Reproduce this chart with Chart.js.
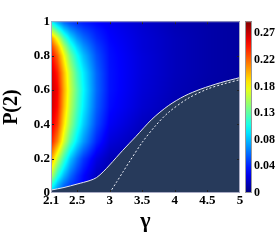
<!DOCTYPE html>
<html>
<head>
<meta charset="utf-8">
<script src="https://cdn.jsdelivr.net/npm/chart.js@4.4.1/dist/chart.umd.min.js"></script>
<style>
  html, body { margin: 0; padding: 0; background: #fff; }
  #wrap { width: 277px; height: 241px; }
</style>
</head>
<body>
<div id="wrap"><canvas id="chartMap"></canvas></div>
<script>
// axis ticks
const gammaTicks = [2.1, 2.5, 3, 3.5, 4, 4.5, 5];
const gammaTickLabels = ['2.1', '2.5', '3', '3.5', '4', '4.5', '5'];
const pTicks = [0, 0.2, 0.4, 0.6, 0.8, 1];
const pTickLabels = ['0', '0.2', '0.4', '0.6', '0.8', '1'];

// colour bar
const colorMax = 0.29;
const cbTicks = [0, 0.0449, 0.0898, 0.1347, 0.1796, 0.2245, 0.2694];
const cbTickLabels = ['0', '0.04', '0.08', '0.13', '0.18', '0.22', '0.27'];

// heat map grid (columns = gamma, one array per P row)
const gammaCols = [2.1, 2.2, 2.3, 2.4, 2.5, 2.6, 2.8, 3.0, 3.5, 4.0, 4.5, 5.0];
const pRows = [0, 0.05, 0.1, 0.2, 0.3, 0.4, 0.5, 0.6, 0.7, 0.8, 0.85, 0.9, 0.95, 1];
const rowP000 = [0.090, 0.070, 0.055, 0.046, 0.040, 0.035, 0.022, 0.015, 0.010, 0.008, 0.007, 0.006];
const rowP005 = [0.125, 0.090, 0.068, 0.054, 0.045, 0.036, 0.020, 0.013, 0.010, 0.008, 0.007, 0.006];
const rowP010 = [0.165, 0.118, 0.088, 0.066, 0.050, 0.038, 0.018, 0.012, 0.009, 0.008, 0.007, 0.006];
const rowP020 = [0.212, 0.165, 0.125, 0.092, 0.070, 0.052, 0.028, 0.016, 0.010, 0.008, 0.007, 0.006];
const rowP030 = [0.248, 0.215, 0.168, 0.130, 0.102, 0.080, 0.046, 0.026, 0.013, 0.009, 0.007, 0.006];
const rowP040 = [0.263, 0.238, 0.188, 0.150, 0.120, 0.095, 0.057, 0.034, 0.018, 0.011, 0.008, 0.007];
const rowP050 = [0.270, 0.250, 0.200, 0.160, 0.130, 0.104, 0.063, 0.039, 0.023, 0.014, 0.010, 0.008];
const rowP060 = [0.272, 0.254, 0.205, 0.165, 0.135, 0.108, 0.066, 0.041, 0.025, 0.016, 0.011, 0.008];
const rowP070 = [0.268, 0.245, 0.200, 0.160, 0.128, 0.104, 0.065, 0.041, 0.026, 0.017, 0.012, 0.009];
const rowP080 = [0.255, 0.225, 0.180, 0.140, 0.112, 0.090, 0.059, 0.040, 0.026, 0.017, 0.012, 0.009];
const rowP085 = [0.240, 0.205, 0.160, 0.122, 0.097, 0.079, 0.054, 0.039, 0.025, 0.017, 0.012, 0.009];
const rowP090 = [0.215, 0.175, 0.130, 0.100, 0.080, 0.067, 0.048, 0.037, 0.025, 0.017, 0.012, 0.009];
const rowP095 = [0.160, 0.125, 0.095, 0.076, 0.064, 0.055, 0.043, 0.035, 0.024, 0.016, 0.012, 0.009];
const rowP100 = [0.105, 0.080, 0.062, 0.052, 0.046, 0.042, 0.036, 0.031, 0.022, 0.015, 0.011, 0.008];
const heatRows = [rowP000, rowP005, rowP010, rowP020, rowP030, rowP040, rowP050,
                  rowP060, rowP070, rowP080, rowP085, rowP090, rowP095, rowP100];

// boundary of the shaded region (solid) and the dashed curve
const solidGamma = [2.1, 2.3, 2.5, 2.7, 2.8, 2.9, 3.0, 3.2, 3.4, 3.65, 3.9, 4.15, 4.4, 4.7, 5.0];
const solidP = [0.017, 0.032, 0.052, 0.073, 0.09, 0.123, 0.163, 0.248, 0.328, 0.43, 0.508, 0.565, 0.605, 0.642, 0.672];
const dashGamma = [3.0, 3.1, 3.2, 3.3, 3.5, 3.7, 3.9, 4.2, 4.5, 4.75, 5.0];
const dashP = [0, 0.06, 0.12, 0.18, 0.295, 0.39, 0.468, 0.55, 0.605, 0.635, 0.66];

const FONT = '"Liberation Serif", "DejaVu Serif", serif';
const SHADE = '#273a5b';

// jet colour map, t in [0,1]
function jet(t) {
  t = Math.max(0, Math.min(1, t));
  const c = v => Math.round(255 * Math.max(0, Math.min(1, v)));
  return [c(1.5 - Math.abs(4 * t - 3)), c(1.5 - Math.abs(4 * t - 2)), c(1.5 - Math.abs(4 * t - 1))];
}

function findCell(arr, v) {
  let i = 0;
  while (i < arr.length - 2 && v > arr[i + 1]) i++;
  const f = Math.max(0, Math.min(1, (v - arr[i]) / (arr[i + 1] - arr[i])));
  return [i, f];
}

function heatValue(g, p) {
  const [i, fx] = findCell(gammaCols, g);
  const [j, fy] = findCell(pRows, p);
  const a = heatRows[j][i], b = heatRows[j][i + 1];
  const c = heatRows[j + 1][i], d = heatRows[j + 1][i + 1];
  return (a * (1 - fx) + b * fx) * (1 - fy) + (c * (1 - fx) + d * fx) * fy;
}

// heat map under the datasets, frame / ticks / colour bar on top
const heatPlugin = {
  id: 'heat',
  beforeDatasetsDraw(chart) {
    const { ctx, chartArea: a, scales: { x, y } } = chart;
    const w = Math.round(a.right - a.left), h = Math.round(a.bottom - a.top);
    const off = document.createElement('canvas');
    off.width = w; off.height = h;
    const octx = off.getContext('2d');
    const img = octx.createImageData(w, h);
    for (let py = 0; py < h; py++) {
      const p = y.getValueForPixel(a.top + py + 0.5);
      for (let px = 0; px < w; px++) {
        const g = x.getValueForPixel(a.left + px + 0.5);
        const col = jet(heatValue(g, p) / colorMax);
        const k = (py * w + px) * 4;
        img.data[k] = col[0]; img.data[k + 1] = col[1]; img.data[k + 2] = col[2]; img.data[k + 3] = 255;
      }
    }
    octx.putImageData(img, 0, 0);
    ctx.drawImage(off, a.left, a.top);
  },
  afterDraw(chart) {
    const { ctx, chartArea: a, scales: { x, y, cb } } = chart;
    ctx.save();
    // inward tick marks
    ctx.strokeStyle = '#222';
    ctx.lineWidth = 1;
    ctx.beginPath();
    gammaTicks.slice(1, -1).forEach(v => {
      const px = Math.round(x.getPixelForValue(v)) + 0.5;
      ctx.moveTo(px, a.top); ctx.lineTo(px, a.top + 3);
      ctx.moveTo(px, a.bottom); ctx.lineTo(px, a.bottom - 3);
    });
    pTicks.slice(1, -1).forEach(v => {
      const py = Math.round(y.getPixelForValue(v)) + 0.5;
      ctx.moveTo(a.left, py); ctx.lineTo(a.left + 3, py);
      ctx.moveTo(a.right, py); ctx.lineTo(a.right - 3, py);
    });
    ctx.stroke();
    // frame
    ctx.strokeStyle = '#a9abc4';
    ctx.strokeRect(a.left + 0.5, a.top + 0.5, a.right - a.left - 1, a.bottom - a.top - 1);
    // colour bar
    const bx = a.right + 5, bw = 7;
    const top = cb.getPixelForValue(colorMax), bot = cb.getPixelForValue(0);
    const grad = ctx.createLinearGradient(0, bot, 0, top);
    for (let s = 0; s <= 20; s++) {
      const c = jet(s / 20);
      grad.addColorStop(s / 20, `rgb(${c[0]},${c[1]},${c[2]})`);
    }
    ctx.fillStyle = grad;
    ctx.fillRect(bx, top, bw, bot - top);
    ctx.strokeStyle = '#999';
    ctx.strokeRect(bx + 0.5, top + 0.5, bw - 1, bot - top - 1);
    ctx.restore();
  }
};

const ctx = document.getElementById('chartMap');
new Chart(ctx, {
  type: 'scatter',
  data: {
    datasets: [
      {
        // 경계 (solid) + shaded region
        data: solidGamma.map((g, i) => ({ x: g, y: solidP[i] })),
        order: 2,
        showLine: true,
        fill: 'origin',
        backgroundColor: SHADE,
        borderColor: '#e4e6f0',
        borderWidth: 1,
        pointRadius: 0,
        tension: 0.3
      },
      {
        // dashed curve, drawn over the shaded region
        data: dashGamma.map((g, i) => ({ x: g, y: dashP[i] })),
        order: 1,
        showLine: true,
        fill: false,
        borderColor: '#eef0f8',
        borderWidth: 1,
        borderDash: [2, 2],
        pointRadius: 0,
        tension: 0.3
      }
    ]
  },
  options: {
    responsive: true,
    maintainAspectRatio: false,
    animation: false,
    layout: { padding: { top: 7, left: 0, right: 0, bottom: 0 } },
    plugins: { legend: { display: false }, tooltip: { enabled: false } },
    scales: {
      x: {
        type: 'linear', min: 2.1, max: 5,
        afterBuildTicks: s => { s.ticks = gammaTicks.map(v => ({ value: v })); },
        afterFit: s => { s.height = 48; },
        ticks: {
          autoSkip: false, maxRotation: 0, padding: 0,
          color: '#000', font: { family: FONT, size: 13, weight: 'bold' },
          callback: (v, i) => gammaTickLabels[i]
        },
        grid: { display: false, drawTicks: false },
        border: { display: false },
        title: { display: true, text: 'γ', color: '#000', padding: { top: 0, bottom: 6 },
                 font: { family: FONT, size: 22, weight: 'bold' } }
      },
      y: {
        type: 'linear', min: 0, max: 1,
        afterBuildTicks: s => { s.ticks = pTicks.map(v => ({ value: v })); },
        afterFit: s => { s.width = 51; },
        ticks: {
          padding: 1, color: '#000', font: { family: FONT, size: 13, weight: 'bold' },
          callback: (v, i) => pTickLabels[i]
        },
        grid: { display: false, drawTicks: false },
        border: { display: false },
        title: { display: true, text: 'P(2)', color: '#000', padding: { top: 0, bottom: 0 },
                 font: { family: FONT, size: 20, weight: 'bold' } }
      },
      cb: {
        type: 'linear', position: 'right', min: 0, max: colorMax,
        afterBuildTicks: s => { s.ticks = cbTicks.map(v => ({ value: v })); },
        afterFit: s => { s.width = 37; },
        ticks: {
          padding: 14, color: '#000', font: { family: FONT, size: 12, weight: 'bold' },
          callback: (v, i) => cbTickLabels[i]
        },
        grid: { display: false, drawTicks: false },
        border: { display: false }
      }
    }
  },
  plugins: [heatPlugin]
});
</script>
</body>
</html>
